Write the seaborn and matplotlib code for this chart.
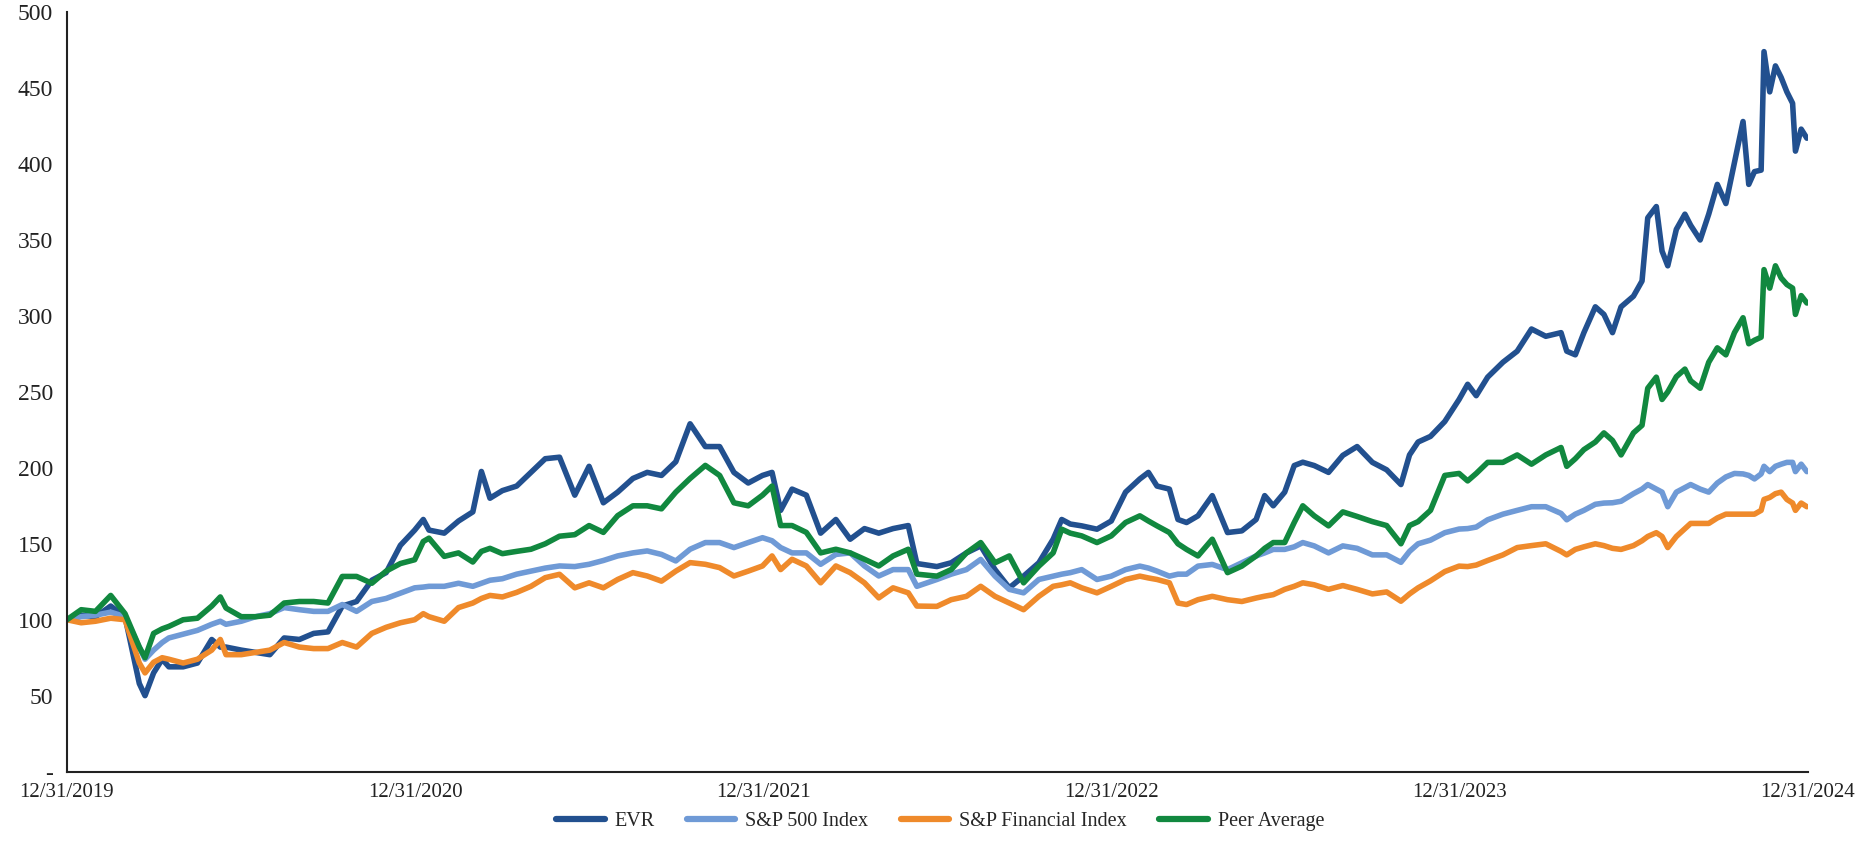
###############################################################################
# Import Libraries
###############################################################################
import numpy as np
import pandas as pd
import matplotlib
matplotlib.use('Agg')
import matplotlib.pyplot as plt
import matplotlib.dates as mdates
import seaborn as sns


###############################################################################
# Data (indexed total return, 12/31/2019 = 100)
###############################################################################
# sample points, in months after 12/31/2019
months = [
    0, 0.5, 1, 1.5, 2, 2.5, 2.7, 3, 3.3, 3.5, 4, 4.5, 5, 5.3, 5.5, 6, 6.5, 7,
    7.5, 8, 8.5, 9, 9.5, 10, 10.5, 11, 11.5,
    12, 12.3, 12.5, 13, 13.5, 14, 14.3, 14.6, 15, 15.5, 16, 16.5, 17, 17.5,
    18, 18.5, 19, 19.5, 20, 20.5, 21, 21.5, 22, 22.5, 23, 23.5,
    24, 24.3, 24.6, 25, 25.5, 26, 26.5, 27, 27.5, 28, 28.5, 29, 29.3, 30,
    30.5, 31, 31.5, 32, 32.5, 33, 33.5, 34, 34.3, 34.6, 35, 35.5,
    36, 36.5, 37, 37.3, 37.6, 38, 38.3, 38.6, 39, 39.5, 40, 40.5, 41, 41.3,
    41.6, 42, 42.3, 42.6, 43, 43.5, 44, 44.5, 45, 45.5, 46, 46.3, 46.6, 47,
    47.5,
    48, 48.3, 48.6, 49, 49.5, 50, 50.5, 51, 51.5, 51.7, 52, 52.3, 52.7, 53,
    53.3, 53.6, 54, 54.3, 54.5, 54.8, 55, 55.2, 55.5, 55.8, 56, 56.3, 56.6,
    56.9, 57.2, 57.5, 57.8, 58, 58.2, 58.4, 58.5, 58.7, 58.9, 59.1, 59.3,
    59.5, 59.6, 59.8, 60]

evr = [
    100, 103, 102, 109, 102, 58, 50, 65, 74, 69, 69, 71.5, 87, 82, 82, 80,
    78.5, 77, 88, 87, 91, 92, 109, 112, 126, 131, 149,
    159, 166, 159, 157, 165, 171, 197.6, 180, 185, 188, 197, 206, 207, 182,
    201, 177, 184, 193, 197, 195, 204, 229, 214, 214, 197, 190,
    195, 197, 172, 186, 182, 157, 166, 153, 160, 157, 160, 162, 137, 135,
    137.5, 144, 148.6, 133, 121, 128.7, 137.5, 153, 166, 163, 161.8, 159.6,
    165, 184, 192.7, 197, 188, 186, 166, 164, 168.4, 181.7, 157.4, 158.5,
    166, 181.7, 175, 184, 201.5, 203.7, 201.5, 197, 208.2, 214, 203.6, 198.7,
    189, 208.5, 217, 220.7, 230.5,
    245, 255, 247.5, 259.7, 269.5, 276.8, 291.4, 286.6, 289, 276.8, 274.4,
    289, 306, 301, 289, 306, 313, 323, 364.6, 372, 342.7, 333, 357, 367,
    359.7, 350, 367, 386.6, 374, 401, 428, 386.6, 395, 396, 474, 447.5,
    464.6, 457, 447.5, 440, 408.5, 423, 417]

sp500 = [
    100, 102, 103, 105, 102, 82, 74, 80, 85, 88, 90.5, 93, 97, 99, 97, 99,
    102, 104, 108, 106.6, 105.5, 105.5, 110, 105.5, 112, 114, 117.5,
    121, 121.5, 122, 122, 124, 122, 124, 126, 127, 130, 132, 134, 135.4, 135,
    136.5, 139, 142, 144, 145.3, 143, 138.7, 146.4, 150.8, 150.8, 147.5,
    150.8,
    154, 152, 147.5, 144, 144, 136.5, 143, 144, 135.4, 128.8, 133, 133, 122,
    126.5, 130, 133, 139.7, 128.7, 120, 117.7, 126.5, 128.7, 130, 131, 133,
    126.5,
    128.7, 133, 135.3, 134, 132, 128.7, 130, 130, 135.3, 136.4, 133, 137.5,
    142, 144, 146.3, 146.3, 148, 150.8, 148.6, 144, 148.6, 147, 142.7, 142.7,
    137.8, 145, 150, 152.4, 157.3,
    159.7, 160, 161, 165.8, 169.5, 172, 174.4, 174.4, 170, 165.8, 169.5, 172,
    176, 176.8, 177, 178, 183, 186, 189, 186, 184, 174.4, 184, 187, 189, 186,
    184, 190, 194, 196.3, 196, 195, 192.7, 196, 201, 197.5, 201, 202.4,
    203.6, 203.6, 197.5, 202.4, 197.5]

sp_fin = [
    100, 98, 99, 101, 100, 71.5, 65, 72, 75, 74, 71.5, 74, 80, 87, 77, 77,
    78.5, 80, 85, 82, 81, 81, 85, 82, 91, 95, 98,
    100, 104, 102, 99, 108, 111, 114, 116, 115, 118, 122, 127.7, 129.9, 121,
    124.3, 121, 126.5, 131, 128.8, 125.4, 132, 137.6, 136.5, 134.3, 128.8,
    132,
    135.4, 142, 133, 139.8, 135.4, 124.3, 135.4, 131, 124.3, 114.4, 121,
    117.7, 109, 108.8, 113.2, 115.4, 122, 115.4, 111, 106.6, 115.4, 122, 123,
    124.3, 121, 117.7,
    122, 126.5, 128.7, 127.5, 126.5, 124.3, 111, 110, 113.2, 115.4, 113.2,
    112, 114.3, 115.5, 116.5, 120, 122, 124.3, 123, 120, 122.5, 120, 117,
    118.3, 112.2, 117, 121, 125.6, 131.7,
    135.3, 135, 136, 139, 142.7, 147.5, 148.8, 150, 145, 142.7, 146.3, 148,
    150, 148.8, 147, 146.3, 148.8, 152, 154.8, 157.3, 154.8, 147.5, 154.8,
    160, 163.4, 163.4, 163.4, 167, 169.5, 169.5, 169.5, 169.5, 169.5, 172,
    179.2, 180.5, 183, 184, 179.2, 176.8, 172, 176.8, 174.4]

peer_avg = [
    100, 106.6, 105.5, 116, 104, 82, 75, 91, 94, 95.6, 100, 101, 109, 115,
    107.7, 102, 102, 103, 111, 112, 112, 111, 128.5, 128.5, 124, 132, 137,
    139.5, 151.5, 153.7, 141.7, 144, 138, 145, 147, 143.5, 145, 146.4, 150,
    155, 156, 162, 157.5, 168.5, 175, 175, 173, 184, 193, 201.6, 195, 177,
    175,
    182, 188, 162, 162, 157.5, 144, 146.4, 144, 139.8, 135.4, 142, 146.4,
    130, 128.7, 133, 144, 150.8, 137.5, 142, 124.3, 135.3, 144, 159.6, 157,
    155.2, 150.8,
    155.2, 164, 168.4, 165, 161.8, 157.4, 150, 146.3, 142, 153, 131, 135.3,
    142, 147, 150.8, 150.8, 164, 175, 168.4, 161.8, 171, 168, 164.6, 162,
    150, 162, 164.6, 172, 195,
    196.3, 191.4, 196.3, 203.6, 203.6, 208.5, 202.4, 208.5, 213.4, 201, 206,
    212, 217, 223, 218, 208.5, 223, 228, 252.4, 259.7, 245, 250, 260, 265,
    257.3, 252.4, 269.5, 279, 274.4, 289, 298.8, 281.7, 284, 286, 330.5,
    318.3, 333, 325, 320.7, 318.3, 301, 313.4, 308.5]

series_names = ['EVR', 'S&P 500 Index', 'S&P Financial Index', 'Peer Average']
series_colors = ['#22508f', '#6f9ad6', '#ef8a2b', '#11883f']
year_ticks = ['2019-12-31', '2020-12-31', '2021-12-31', '2022-12-31',
              '2023-12-31', '2024-12-31']
y_ticks = [0, 50, 100, 150, 200, 250, 300, 350, 400, 450, 500]
y_labels = ['-', '50', '100', '150', '200', '250', '300', '350', '400',
            '450', '500']


###############################################################################
# Data Transformation
###############################################################################
start = pd.Timestamp('2019-12-31')
dates = start + pd.to_timedelta(np.round(np.array(months) * 30.4375), unit='D')

df = pd.DataFrame({'date': dates, 'EVR': evr, 'S&P 500 Index': sp500,
                   'S&P Financial Index': sp_fin, 'Peer Average': peer_avg})
long_df = df.melt(id_vars='date', var_name='series', value_name='value')


###############################################################################
# Plot
###############################################################################
sns.set_style('white')
plt.rcParams['font.family'] = ['Liberation Serif', 'DejaVu Serif']

fig = plt.figure(figsize=(18.58, 8.67), dpi=100)
ax = fig.add_axes([0.036, 0.110, 0.937, 0.876])

sns.lineplot(data=long_df, x='date', y='value', hue='series',
             hue_order=series_names, palette=series_colors,
             linewidth=4.0, ax=ax, legend=True)

# Axes
ax.set_ylim(0, 500)
ax.set_xlim(pd.Timestamp(year_ticks[0]), pd.Timestamp(year_ticks[-1]))
ax.set_yticks(y_ticks)
ax.set_yticklabels(y_labels)
ax.set_xticks(pd.to_datetime(year_ticks))
ax.xaxis.set_major_formatter(mdates.DateFormatter('%m/%d/%Y'))
ax.set_xlabel('')
ax.set_ylabel('')
ax.tick_params(axis='both', colors='#222222', direction='out',
               length=6, width=1.5)
ax.tick_params(axis='y', pad=4, labelsize=17)
ax.tick_params(axis='x', pad=2, labelsize=15)

for side in ['top', 'right']:
    ax.spines[side].set_visible(False)
for side in ['left', 'bottom']:
    ax.spines[side].set_color('#222222')
    ax.spines[side].set_linewidth(1.5)

# Legend
handles, labels = ax.get_legend_handles_labels()
ax.legend(handles, labels, loc='center', bbox_to_anchor=(0.506, 0.052),
          bbox_transform=fig.transFigure, ncol=4, frameon=False,
          fontsize=14.5, handlelength=2.4, handletextpad=0.5,
          columnspacing=1.6)
for line in ax.get_legend().get_lines():
    line.set_linewidth(4.5)

fig.savefig('out.png', dpi=100)
plt.close()
